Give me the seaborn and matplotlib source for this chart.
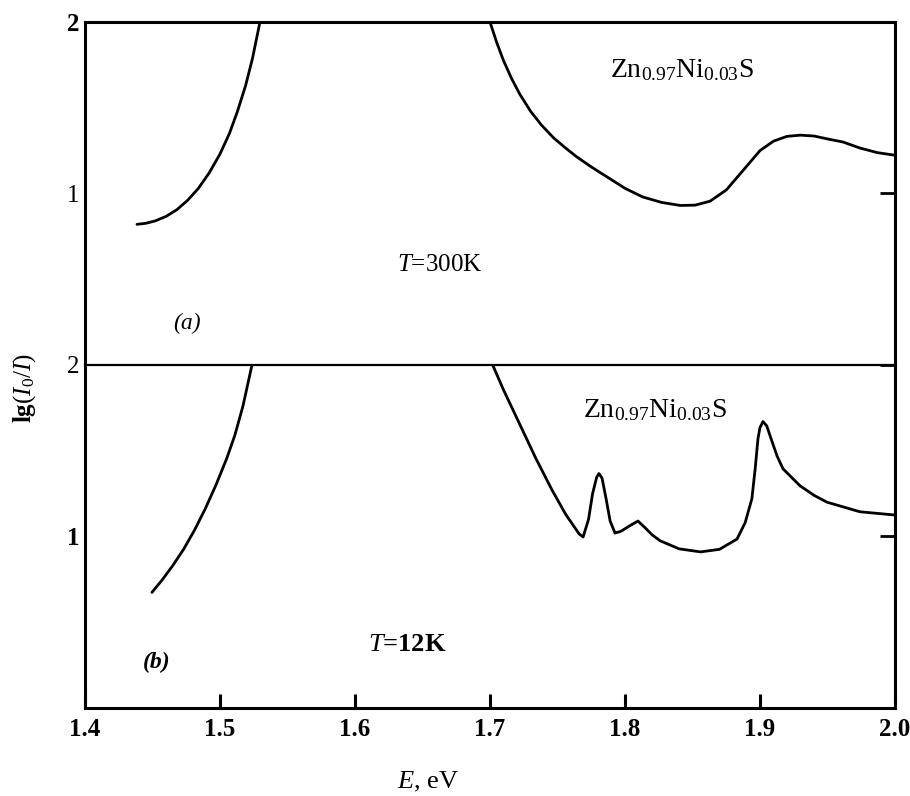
import matplotlib
matplotlib.use('Agg')
import pandas as pd
import matplotlib.pyplot as plt
import seaborn as sns

# absorption curves (E in eV, lg(I0/I))
# panel (a), T = 300 K
a_edge_E = [1.4385, 1.445, 1.452, 1.460, 1.468, 1.476, 1.484, 1.492, 1.500,
            1.507, 1.513, 1.519, 1.524, 1.5296]
a_edge_y = [0.820, 0.826, 0.840, 0.866, 0.905, 0.960, 1.030, 1.120, 1.230,
            1.350, 1.480, 1.630, 1.785, 2.000]
a_band_E = [1.700, 1.705, 1.710, 1.716, 1.722, 1.730, 1.738, 1.747, 1.756,
            1.764, 1.775, 1.789, 1.800, 1.813, 1.827, 1.841, 1.852, 1.863,
            1.875, 1.887, 1.900, 1.910, 1.920, 1.930, 1.940, 1.950, 1.9615,
            1.974, 1.987, 2.000]
a_band_y = [2.000, 1.880, 1.775, 1.670, 1.580, 1.480, 1.400, 1.325, 1.265,
            1.215, 1.155, 1.085, 1.030, 0.980, 0.948, 0.930, 0.932, 0.955,
            1.020, 1.130, 1.250, 1.305, 1.333, 1.340, 1.335, 1.318, 1.300,
            1.265, 1.238, 1.223]

# panel (b), T = 12 K
b_edge_E = [1.4496, 1.457, 1.465, 1.473, 1.481, 1.489, 1.497, 1.505, 1.511,
            1.517, 1.5237]
b_edge_y = [0.674, 0.745, 0.830, 0.925, 1.035, 1.160, 1.300, 1.455, 1.590,
            1.760, 2.000]
b_band_E = [1.702, 1.710, 1.722, 1.734, 1.746, 1.756, 1.766, 1.769, 1.773,
            1.776, 1.779, 1.7807, 1.783, 1.786, 1.789, 1.7926, 1.797, 1.803,
            1.8096, 1.815, 1.820, 1.826, 1.840, 1.856, 1.870, 1.883, 1.889,
            1.894, 1.8965, 1.8985, 1.900, 1.9022, 1.905, 1.908, 1.9126, 1.917,
            1.9296, 1.940, 1.9496, 1.974, 2.000]
b_band_y = [2.000, 1.855, 1.655, 1.455, 1.270, 1.130, 1.015, 0.997, 1.100,
            1.250, 1.345, 1.367, 1.340, 1.220, 1.090, 1.020, 1.030, 1.060,
            1.090, 1.050, 1.010, 0.975, 0.928, 0.910, 0.925, 0.985, 1.080,
            1.220, 1.400, 1.570, 1.635, 1.670, 1.645, 1.575, 1.470, 1.395,
            1.296, 1.240, 1.200, 1.144, 1.125]

x_ticks = [1.4, 1.5, 1.6, 1.7, 1.8, 1.9, 2.0]
x_ticklabels = ['1.4', '1.5', '1.6', '1.7', '1.8', '1.9', '2.0']
y_ticks = [1, 2]
y_ticklabels = ['1', '2']

sns.set_style('white')
plt.rcParams['font.family'] = ['Liberation Serif', 'DejaVu Serif']
plt.rcParams['text.color'] = 'black'
plt.rcParams['mathtext.fontset'] = 'custom'
plt.rcParams['mathtext.rm'] = 'Liberation Serif'
plt.rcParams['mathtext.it'] = 'Liberation Serif:italic'
plt.rcParams['mathtext.bf'] = 'Liberation Serif:bold'

fig, (ax_a, ax_b) = plt.subplots(2, 1, sharex=True, figsize=(9.1, 7.96), dpi=100)
fig.subplots_adjust(left=0.0934, right=0.9835, top=0.9724, bottom=0.1106, hspace=0)

for ax, segs in [(ax_a, [(a_edge_E, a_edge_y), (a_band_E, a_band_y)]),
                 (ax_b, [(b_edge_E, b_edge_y), (b_band_E, b_band_y)])]:
    for xs, ys in segs:
        df = pd.DataFrame({'E': xs, 'lg': ys})
        sns.lineplot(data=df, x='E', y='lg', ax=ax, color='black', lw=2.0)
    ax.set_xlim(1.4, 2.0)
    ax.set_ylim(0, 2)
    ax.set_xlabel('')
    ax.set_ylabel('')
    ax.set_yticks(y_ticks)
    ax.set_yticklabels(y_ticklabels)
    ax.tick_params(axis='y', left=False, right=True, direction='in',
                   length=11, width=2, pad=4, labelsize=18, colors='black')
    for s in ax.spines.values():
        s.set_linewidth(2.2)
        s.set_color('black')

ax_a.spines['bottom'].set_visible(False)
ax_b.spines['top'].set_linewidth(1.6)
ax_a.tick_params(axis='x', bottom=False, labelbottom=False)
ax_b.set_xticks(x_ticks)
ax_b.set_xticklabels(x_ticklabels)
ax_b.tick_params(axis='x', bottom=True, direction='in', length=10, width=2.2,
                 pad=7, labelsize=18, colors='black')
for lab in ax_b.get_xticklabels():
    lab.set_fontweight('bold')
ax_a.get_yticklabels()[1].set_fontweight('bold')
ax_b.get_yticklabels()[0].set_fontweight('bold')

formula = r'Zn$_{0.97}$Ni$_{0.03}$S'
ax_a.text(1.789, 1.72, formula, fontsize=20, va='center', ha='left', color='black')
ax_a.text(1.631, 0.58, r'$T$=300K', fontsize=18, va='center', ha='left', color='black')
ax_a.text(1.465, 0.243, '(a)', fontsize=17, style='italic', va='center', ha='left',
          color='black')
ax_b.text(1.769, 1.736, formula, fontsize=20, va='center', ha='left', color='black')
ax_b.text(1.61, 0.37, r'$\mathbf{\mathit{T}}$=12K', fontsize=19, fontweight='bold',
          va='center', ha='left', color='black')
ax_b.text(1.443, 0.264, '(b)', fontsize=17, style='italic', fontweight='bold',
          va='center', ha='left', color='black')

fig.text(428 / 910, 1 - 782 / 796, r'$\mathit{E}$, eV', fontsize=19,
         ha='center', va='center', color='black')
fig.text(25 / 910, 1 - 388 / 796, r'$\mathbf{lg}$($I_0$/$I$)', fontsize=18,
         rotation=90, ha='center', va='center', color='black')

fig.savefig('out.png', dpi=100)
